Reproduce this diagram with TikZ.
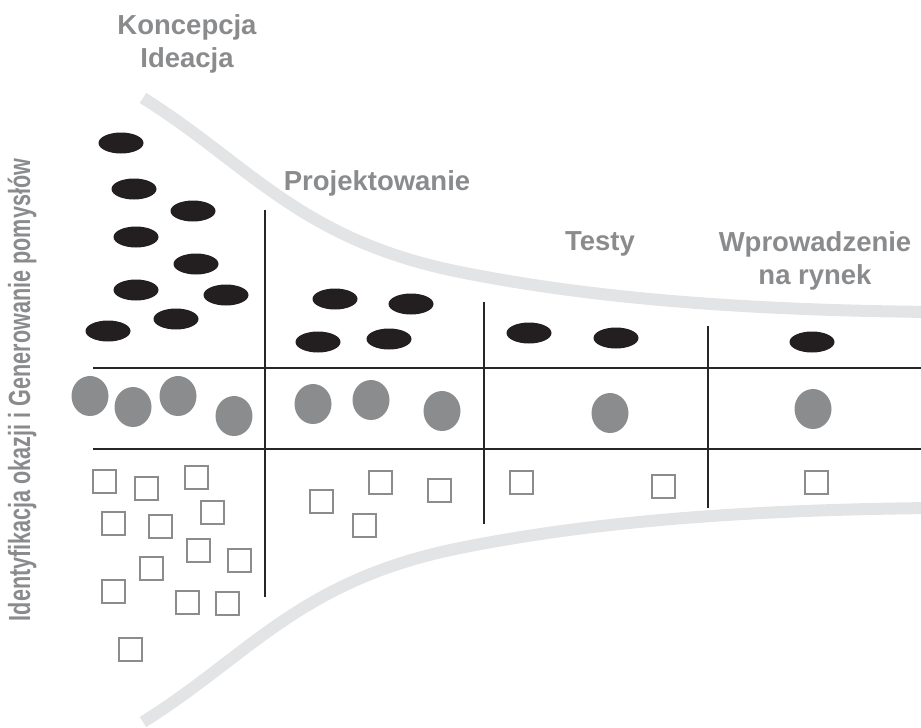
\documentclass[tikz,border=0pt]{standalone}
\usepackage{fontspec}
\setmainfont{Liberation Sans}
\usepackage{tikz}
\usetikzlibrary{shapes.geometric}

\definecolor{labelgray}{HTML}{8A8B8D}
\definecolor{funnelgray}{HTML}{E3E4E5}
\definecolor{dotgray}{HTML}{8B8C8E}
\definecolor{ideablack}{HTML}{231F20}

\begin{document}
\begin{tikzpicture}[
            x = 0.5pt, % one unit = one pixel of the sketch
            y = -0.5pt,
            thick % line style
        ]

        \tikzstyle{idea}=[
            ellipse,
            fill = ideablack,
            inner sep = 0pt,
            minimum width = 22.5pt,
            minimum height = 10.5pt
        ]
        \tikzstyle{concept}=[
            ellipse,
            fill = dotgray,
            inner sep = 0pt,
            minimum width = 18.5pt,
            minimum height = 20pt
        ]
        \tikzstyle{proto}=[
            rectangle,
            draw = dotgray,
            line width = 1pt,
            inner sep = 0pt,
            minimum size = 11.5pt
        ]
        \tikzstyle{stage}=[
            text = labelgray,
            font = \bfseries\fontsize{13.75}{16.5}\selectfont,
            align = center
        ]
        \tikzstyle{grid}=[line width = 1.2pt, black!85]
        \tikzstyle{funnel}=[line width = 6pt, funnelgray]

        \useasboundingbox (0,0) rectangle (921,728);

        % funnel
        \draw[funnel] (143,98) .. controls (250,165) and (300,240) .. (460,272)
            .. controls (560,292) and (700,310) .. (935,312);
        \draw[funnel] (143,722) .. controls (250,655) and (300,580) .. (460,548)
            .. controls (560,528) and (700,510) .. (935,508);

        % grid
        \coordinate (h1l) at (93,368);
        \coordinate (h1r) at (921,368);
        \coordinate (h2l) at (93,449);
        \coordinate (h2r) at (921,449);
        \coordinate (v1t) at (265,210);
        \coordinate (v1b) at (265,597);
        \coordinate (v2t) at (484,302);
        \coordinate (v2b) at (484,524);
        \coordinate (v3t) at (708,326);
        \coordinate (v3b) at (708,508);

        \draw[grid] (h1l) -- (h1r);
        \draw[grid] (h2l) -- (h2r);
        \draw[grid] (v1t) -- (v1b);
        \draw[grid] (v2t) -- (v2b);
        \draw[grid] (v3t) -- (v3b);

        % labels
        \node[stage] (koncepcja) at (187,44) {Koncepcja\\Ideacja};
        \node[stage] (projekt) at (377,183) {Projektowanie};
        \node[stage] (testy) at (600,244) {Testy};
        \node[stage] (rynek) at (815,261) {Wprowadzenie\\na rynek};
        \node[text = labelgray, rotate = 90,
              font = \bfseries\fontsize{15.3}{18}\selectfont] (identyf) at (22,390)
            {\scalebox{0.706}[1]{Identyfikacja okazji i Generowanie pomysłów}};

        % ideas
        \node[idea] (e1) at (121,143) {};
        \node[idea] (e2) at (134,189) {};
        \node[idea] (e3) at (193,211) {};
        \node[idea] (e4) at (136,237) {};
        \node[idea] (e5) at (196,264) {};
        \node[idea] (e6) at (136,290) {};
        \node[idea] (e7) at (226,295) {};
        \node[idea] (e8) at (176,319) {};
        \node[idea] (e9) at (108,331) {};
        \node[idea] (e10) at (335,299) {};
        \node[idea] (e11) at (411,304) {};
        \node[idea] (e12) at (318,342) {};
        \node[idea] (e13) at (389,339) {};
        \node[idea] (e14) at (529,333) {};
        \node[idea] (e15) at (616,338) {};
        \node[idea] (e16) at (812,342) {};

        % concepts
        \node[concept] (c1) at (90,396) {};
        \node[concept] (c2) at (133,407) {};
        \node[concept] (c3) at (178,396) {};
        \node[concept] (c4) at (234,416) {};
        \node[concept] (c5) at (313,404) {};
        \node[concept] (c6) at (371,400) {};
        \node[concept] (c7) at (442,411) {};
        \node[concept] (c8) at (610,413) {};
        \node[concept] (c9) at (813,409) {};

        % prototypes
        \node[proto] (s1) at (104,481) {};
        \node[proto] (s2) at (146,488) {};
        \node[proto] (s3) at (196,477) {};
        \node[proto] (s4) at (113,523) {};
        \node[proto] (s5) at (160,526) {};
        \node[proto] (s6) at (212,512) {};
        \node[proto] (s7) at (198,550) {};
        \node[proto] (s8) at (239,560) {};
        \node[proto] (s9) at (151,568) {};
        \node[proto] (s10) at (113,591) {};
        \node[proto] (s11) at (187,602) {};
        \node[proto] (s12) at (227,603) {};
        \node[proto] (s13) at (130,649) {};
        \node[proto] (s14) at (321,501) {};
        \node[proto] (s15) at (380,482) {};
        \node[proto] (s16) at (364,525) {};
        \node[proto] (s17) at (439,490) {};
        \node[proto] (s18) at (521,482) {};
        \node[proto] (s19) at (663,486) {};
        \node[proto] (s20) at (816,482) {};

  \end{tikzpicture}
\end{document}
